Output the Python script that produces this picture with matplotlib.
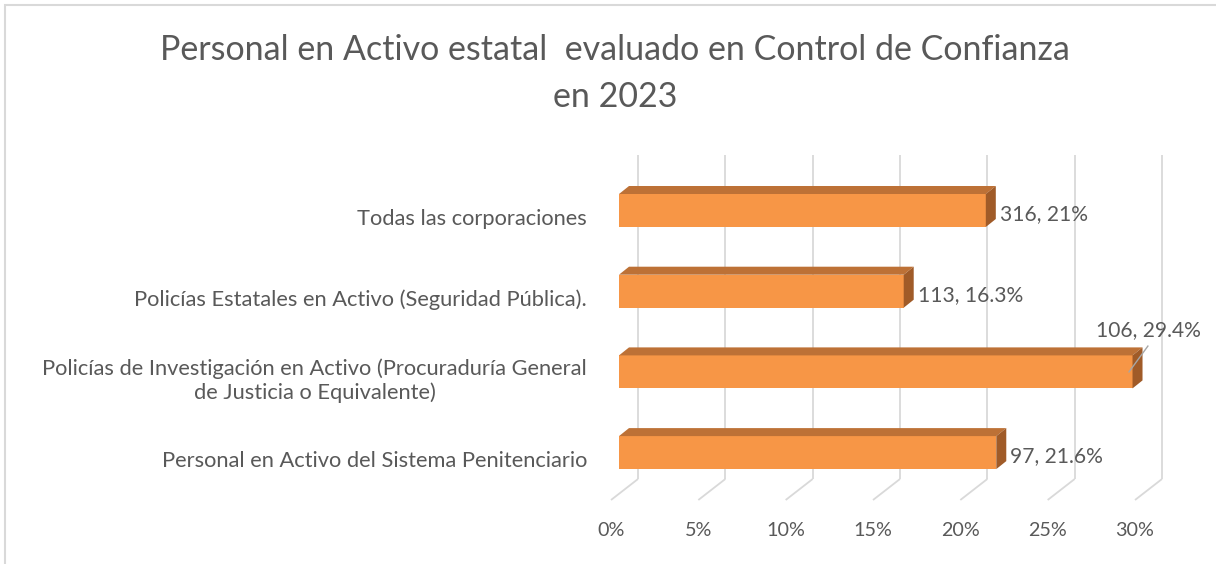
import matplotlib
matplotlib.use("Agg")
import matplotlib.pyplot as plt
from matplotlib.patches import Polygon, Rectangle

# ---------------- data ----------------
title_lines = ["Personal en Activo estatal  evaluado en Control de Confianza", "en 2023"]
categories = [
    "Todas las corporaciones",
    "Policías Estatales en Activo (Seguridad Pública).",
    "Policías de Investigación en Activo (Procuraduría General\nde Justicia o Equivalente)",
    "Personal en Activo del Sistema Penitenciario",
]
counts = [316, 113, 106, 97]
percents = [21.0, 16.3, 29.4, 21.6]
percent_labels = ["21%", "16.3%", "29.4%", "21.6%"]
xticks = [0, 5, 10, 15, 20, 25, 30]
xtick_labels = ["0%", "5%", "10%", "15%", "20%", "25%", "30%"]

# ---------------- style ----------------
W, H = 1216, 564
FONT = "Lato"
TXT = "#595959"
GRID = "#D9D9D9"
FRONT = "#F79646"
TOP = "#BD7136"
SIDE = "#A05B28"

plt.rcParams["font.family"] = [FONT, "DejaVu Sans"]
fig = plt.figure(figsize=(W / 100, H / 100), dpi=100)

# front plane of bars in pixels
px0, px30 = 619, 1143
py_top, py_bot = 169.5, 493.5
ax = fig.add_axes([px0 / W, 1 - py_bot / H, (px30 - px0) / W, (py_bot - py_top) / H])
ppx = (px30 - px0) / 30.0       # pixels per percent
ppy = 80.7                      # pixels per category step
ycenter0 = 210.5
ylo = (py_top - ycenter0) / ppy
yhi = (py_bot - ycenter0) / ppy
ax.set_xlim(0, 30)
ax.set_ylim(yhi, ylo)
ax.axis("off")

# 3D offsets (pixels -> data)
def off(dxp, dyp):
    return dxp / ppx, dyp / ppy

bdx, bdy = off(19, -14.5)   # back wall
tdx, tdy = off(10, -8)      # bar depth
fdx, fdy = off(-8, 6.5)     # floor front edge
bar_h = 33 / ppy

# gridlines on back wall + floor lines
for v in xticks:
    ax.plot([v + bdx, v + bdx], [ylo + bdy, yhi + bdy], color=GRID, lw=1.3,
            clip_on=False, zorder=1, solid_capstyle="butt")
    ax.plot([v + bdx, v + fdx], [yhi + bdy, yhi + fdy], color=GRID, lw=1.3,
            clip_on=False, zorder=1, solid_capstyle="butt")

# bars
for i, v in enumerate(percents):
    top, bot = i - bar_h / 2, i + bar_h / 2
    ax.barh(i, v, height=bar_h, left=0, color=FRONT, zorder=3, clip_on=False)
    ax.add_patch(Polygon([(0, top), (v, top), (v + tdx, top + tdy), (0 + tdx, top + tdy)],
                         closed=True, facecolor=TOP, edgecolor="none", zorder=3, clip_on=False))
    ax.add_patch(Polygon([(v, top), (v + tdx, top + tdy), (v + tdx, bot + tdy), (v, bot)],
                         closed=True, facecolor=SIDE, edgecolor="none", zorder=3, clip_on=False))

fig.canvas.draw()
r = fig.canvas.get_renderer()

def fit(texts, ref, target):
    w = ref.get_window_extent(r).width
    fs = ref.get_fontsize() * target / w
    for t in texts:
        t.set_fontsize(fs)

# data labels
dlabels = []
for i, (c, v, p) in enumerate(zip(counts, percents, percent_labels)):
    s = f"{c}, {p}"
    if v >= 28:
        t = ax.text(v - 2.11, i - 0.52, s, ha="left", va="center", color=TXT,
                    fontsize=14, clip_on=False, zorder=5)
        ax.plot([v + 0.88, v - 0.2], [i - 0.32, i], color="#A6A6A6", lw=1.0,
                clip_on=False, zorder=5)
    else:
        t = ax.text(v + tdx + 4 / ppx, i + 0.043, s, ha="left", va="center", color=TXT,
                    fontsize=14, clip_on=False, zorder=5)
    dlabels.append(t)
fit(dlabels, dlabels[0], 88)

# category labels
clabels = []
for i, c in enumerate(categories):
    t = ax.text(-32 / ppx, i + 0.11, c, ha="right", va="center", multialignment="center",
                color=TXT, fontsize=14, linespacing=1.25, clip_on=False)
    clabels.append(t)
fit(clabels, clabels[0], 232)

# tick labels
tlabels = []
for v, s in zip(xticks, xtick_labels):
    t = ax.text(v + fdx, yhi + 37.5 / ppy, s, ha="center", va="center", color=TXT,
                fontsize=14, clip_on=False)
    tlabels.append(t)
fit(tlabels, tlabels[-1], 39)

# title
t1 = fig.text(615 / W, 1 - 50 / H, title_lines[0], ha="center", va="center", color=TXT, fontsize=20)
t2 = fig.text(615 / W, 1 - 97 / H, title_lines[1], ha="center", va="center", color=TXT, fontsize=20)
fit([t1, t2], t1, 910)

# chart border
fig.add_artist(Rectangle((5 / W, -0.1), 1.2, 1 - 4.5 / H + 0.1, transform=fig.transFigure,
                         facecolor="none", edgecolor=GRID, lw=1.5))

fig.savefig("out.png", dpi=100)
